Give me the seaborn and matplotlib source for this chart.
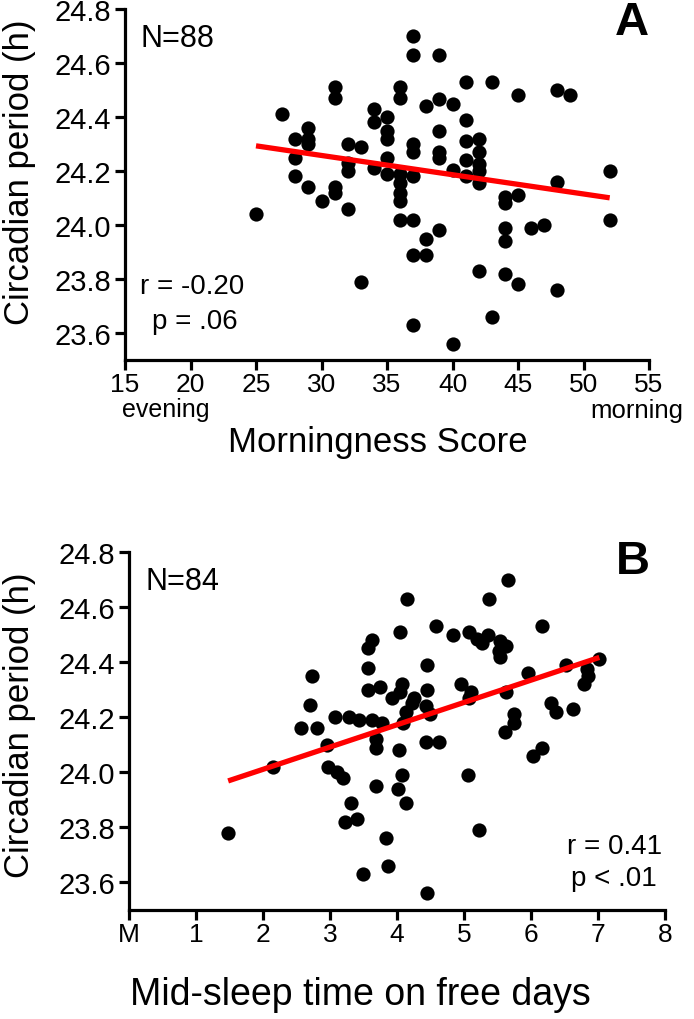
import matplotlib
matplotlib.use("Agg")
import matplotlib.pyplot as plt
import seaborn as sns
import pandas as pd

# panel A: morningness score vs circadian period
morning_score = [25, 27, 28, 28, 28, 29, 29, 29, 29, 30,
                 31, 31, 31, 31, 32, 32, 32, 32, 33, 33,
                 34, 34, 34, 35, 35, 35, 35, 35,
                 36, 36, 36, 36, 36, 36, 36,
                 37, 37, 37, 37, 37, 37, 37, 37,
                 38, 38, 38, 39, 39, 39, 39, 39, 39,
                 40, 40, 40, 41, 41, 41, 41, 41,
                 42, 42, 42, 42, 42, 42, 43, 43,
                 44, 44, 44, 44, 44, 45, 45, 45, 46, 47,
                 48, 48, 48, 49, 52, 52]
period_a = [24.04, 24.41, 24.32, 24.25, 24.18, 24.36, 24.32, 24.30, 24.14, 24.09,
            24.51, 24.47, 24.14, 24.12, 24.30, 24.23, 24.20, 24.06, 24.29, 23.79,
            24.43, 24.38, 24.21, 24.40, 24.35, 24.32, 24.25, 24.19,
            24.51, 24.47, 24.19, 24.155, 24.12, 24.09, 24.02,
            24.70, 24.63, 24.30, 24.27, 24.18, 24.02, 23.89, 23.63,
            24.44, 23.95, 23.89, 24.63, 24.465, 24.35, 24.27, 24.25, 23.98,
            24.45, 24.205, 23.56, 24.53, 24.39, 24.31, 24.24, 24.18,
            24.32, 24.27, 24.225, 24.20, 24.155, 23.83, 24.53, 23.66,
            24.105, 24.08, 23.99, 23.94, 23.82, 24.48, 24.11, 23.78, 23.99, 24.00,
            24.50, 24.16, 23.76, 24.48, 24.20, 24.02]

# panel B: mid-sleep time on free days vs circadian period
midsleep = [1.48, 2.15, 2.57, 2.80, 2.70, 2.73, 2.96, 2.97, 3.10, 3.20,
            3.07, 3.28, 3.44, 3.62, 3.77, 3.32, 3.22, 3.40, 3.49, 3.57,
            3.63, 3.57, 3.57, 3.74, 3.69, 3.68, 3.69, 3.83, 3.87, 3.93,
            4.04, 4.07, 4.04, 4.15, 4.14, 4.09, 4.03, 4.07, 4.01, 4.14,
            4.26, 4.22, 4.44, 4.49, 4.45, 4.45, 4.43, 4.63, 4.45, 4.58,
            4.84, 4.95, 5.11, 5.07, 5.07, 5.19, 5.27, 5.36, 5.37, 5.66,
            5.53, 5.63, 5.52, 5.54, 5.06, 5.23, 5.61, 5.74, 5.74, 5.62,
            5.95, 6.16, 6.03, 6.16, 6.30, 6.37, 6.62, 6.52, 6.84, 6.85,
            6.79, 7.02]
period_b = [23.78, 24.02, 24.16, 24.16, 24.245, 24.35, 24.10, 24.02, 24.00, 23.98,
            24.20, 24.20, 24.19, 24.19, 24.18, 23.89, 23.82, 23.83, 23.63, 24.45,
            24.48, 24.38, 24.30, 24.31, 24.12, 24.09, 23.95, 23.76, 23.66, 24.27,
            24.29, 24.32, 24.51, 24.63, 24.22, 24.18, 24.08, 23.99, 23.94, 23.89,
            24.27, 24.25, 24.24, 24.21, 24.30, 24.39, 24.11, 24.11, 23.56, 24.53,
            24.50, 24.32, 24.29, 24.27, 24.51, 24.485, 24.47, 24.50, 24.63, 24.70,
            24.475, 24.46, 24.44, 24.42, 23.99, 23.79, 24.145, 24.21, 24.18, 24.29,
            24.36, 24.53, 24.06, 24.09, 24.25, 24.22, 24.23, 24.39, 24.375, 24.35,
            24.32, 24.41]

period_ticks = [23.6, 23.8, 24.0, 24.2, 24.4, 24.6, 24.8]
score_ticks = [15, 20, 25, 30, 35, 40, 45, 50, 55]
midsleep_ticks = [0, 1, 2, 3, 4, 5, 6, 7, 8]
midsleep_labels = ["M", "1", "2", "3", "4", "5", "6", "7", "8"]

sns.set_style("ticks")
plt.rcParams["font.family"] = ["Liberation Sans", "DejaVu Sans"]
plt.rcParams["text.color"] = "black"
plt.rcParams["axes.labelcolor"] = "black"

df_a = pd.DataFrame({"score": morning_score, "period": period_a})
df_b = pd.DataFrame({"midsleep": midsleep, "period": period_b})

W, H = 694, 1020
fig = plt.figure(figsize=(W / 100, H / 100), dpi=100)
ax_a = fig.add_axes([125 / W, 1 - 361 / H, (649 - 125) / W, (361 - 10) / H])
ax_b = fig.add_axes([129 / W, 1 - 911 / H, (665 - 129) / W, (911 - 553) / H])

scatter_kws = {"color": "black", "s": 105, "alpha": 1, "linewidths": 0, "zorder": 3}
line_kws = {"color": "red", "lw": 3.8, "zorder": 4, "solid_capstyle": "butt"}

sns.regplot(data=df_a, x="score", y="period", ax=ax_a, ci=None,
            scatter_kws=scatter_kws, line_kws=line_kws)
sns.regplot(data=df_b, x="midsleep", y="period", ax=ax_b, ci=None,
            scatter_kws=scatter_kws, line_kws=line_kws)

for ax in (ax_a, ax_b):
    sns.despine(ax=ax)
    ax.set_ylim(23.5, 24.8)
    ax.set_yticks(period_ticks)
    ax.set_yticklabels([f"{t:.1f}" for t in period_ticks])
    for side in ("left", "bottom"):
        ax.spines[side].set_linewidth(2.3)
        ax.spines[side].set_color("black")
    ax.tick_params(axis="both", length=7, width=2.3, colors="black", labelcolor="black", pad=3)
    ax.tick_params(axis="y", labelsize=21)
    ax.tick_params(axis="x", labelsize=19, pad=2)
    ax.set_ylabel("Circadian period (h)", fontsize=25)
    ax.set_facecolor("white")

ax_a.yaxis.set_label_coords(-0.17, 0.538)
ax_b.yaxis.set_label_coords(-0.173, 0.52)

ax_a.set_xlim(15, 55)
ax_a.set_xticks(score_ticks)
ax_a.set_xlabel("Morningness Score", fontsize=25)
ax_a.xaxis.set_label_coords(0.483, -0.185)
ax_b.set_xlim(0, 8)
ax_b.set_xticks(midsleep_ticks)
ax_b.set_xticklabels(midsleep_labels)
ax_b.set_xlabel("Mid-sleep time on free days", fontsize=27)
ax_b.xaxis.set_label_coords(0.431, -0.184)

fig.text(166 / W, 1 - 410 / H, "evening", fontsize=18, ha="center", va="center")
fig.text(637 / W, 1 - 411 / H, "morning", fontsize=18.5, ha="center", va="center")

ax_a.text(0.03, 0.96, "N=88", transform=ax_a.transAxes, fontsize=22, va="top", ha="left")
ax_a.text(0.968, 0.962, "A", transform=ax_a.transAxes, fontsize=34, fontweight="bold", va="center", ha="center")
ax_a.text(0.029, 0.211, "r = -0.20", transform=ax_a.transAxes, fontsize=20, va="center", ha="left")
ax_a.text(0.0515, 0.111, "p = .06", transform=ax_a.transAxes, fontsize=20, va="center", ha="left")

ax_b.text(0.03, 0.96, "N=84", transform=ax_b.transAxes, fontsize=22, va="top", ha="left")
ax_b.text(0.94, 0.975, "B", transform=ax_b.transAxes, fontsize=34, fontweight="bold", va="center", ha="center")
ax_b.text(0.994, 0.179, "r = 0.41", transform=ax_b.transAxes, fontsize=20, va="center", ha="right")
ax_b.text(0.985, 0.09, "p < .01", transform=ax_b.transAxes, fontsize=20, va="center", ha="right")

fig.savefig("out.png", dpi=100, facecolor="white")
